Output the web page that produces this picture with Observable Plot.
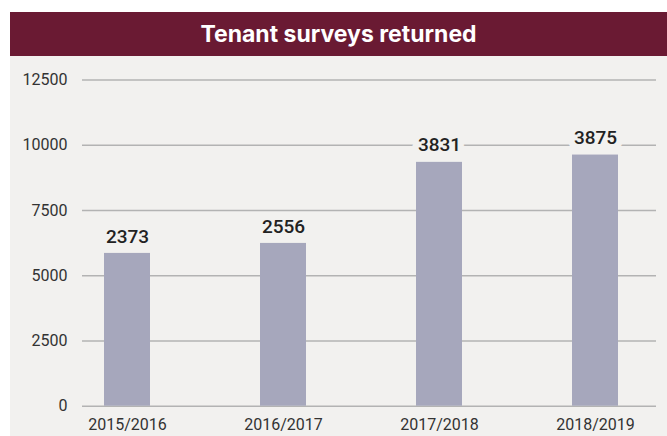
<!DOCTYPE html>
<html>
<head>
<meta charset="utf-8">
<script src="https://cdn.jsdelivr.net/npm/d3@7"></script>
<script src="https://cdn.jsdelivr.net/npm/@observablehq/plot@0.6"></script>
<style>
  html, body { margin: 0; padding: 0; background: #ffffff; }
  #panel { position: absolute; left: 10px; top: 12px; width: 657px; height: 424px; background: #f2f1ef; overflow: hidden; }
  #header { height: 44px; background: #6a1a33; color: #ffffff; font-family: Inter, Roboto, sans-serif; font-weight: 700; font-size: 23px; text-align: center; line-height: 44px; letter-spacing: 0; }
  #chart svg { display: block; }
</style>
</head>
<body>
<div id="panel">
  <div id="header">Tenant surveys returned</div>
  <div id="chart"></div>
</div>
<script>
const years = ["2015/2016", "2016/2017", "2017/2018", "2018/2019"];
const barHeights = [5855, 6238, 9344, 9624];
const barLabels = ["2373", "2556", "3831", "3875"];
const yTicks = [0, 2500, 5000, 7500, 10000, 12500];

const data = years.map((year, i) => ({year, height: barHeights[i], label: barLabels[i]}));
const panelBg = "#f2f1ef";

const chart = Plot.plot({
  width: 657,
  height: 380,
  marginLeft: 72,
  marginRight: 11,
  marginTop: 23.5,
  marginBottom: 30.3,
  style: {background: panelBg, fontFamily: "Roboto, sans-serif", fontSize: "16px", color: "#333333"},
  x: {domain: years, paddingInner: 0.705, paddingOuter: 0.192, align: 0.367, label: null},
  y: {domain: [0, 12500], label: null},
  marks: [
    Plot.ruleY(yTicks, {stroke: "#b3b3b3", strokeWidth: 1.5}),
    Plot.barY(data, {x: "year", y: "height", fill: "#a6a7bc"}),
    Plot.text(data, {x: "year", y: "height", text: "label", dy: -17, lineAnchor: "middle", fontSize: 19, fontWeight: 500, fill: "#222222", stroke: panelBg, strokeWidth: 13, paintOrder: "stroke"}),
    Plot.axisY({ticks: yTicks, tickSize: 0, tickPadding: 15, tickFormat: d => String(d), fontSize: 16, fill: "#333333"}),
    Plot.axisX({tickSize: 0, tickPadding: 12, fontSize: 16, fill: "#333333"})
  ]
});
document.getElementById("chart").appendChild(chart);
</script>
</body>
</html>
